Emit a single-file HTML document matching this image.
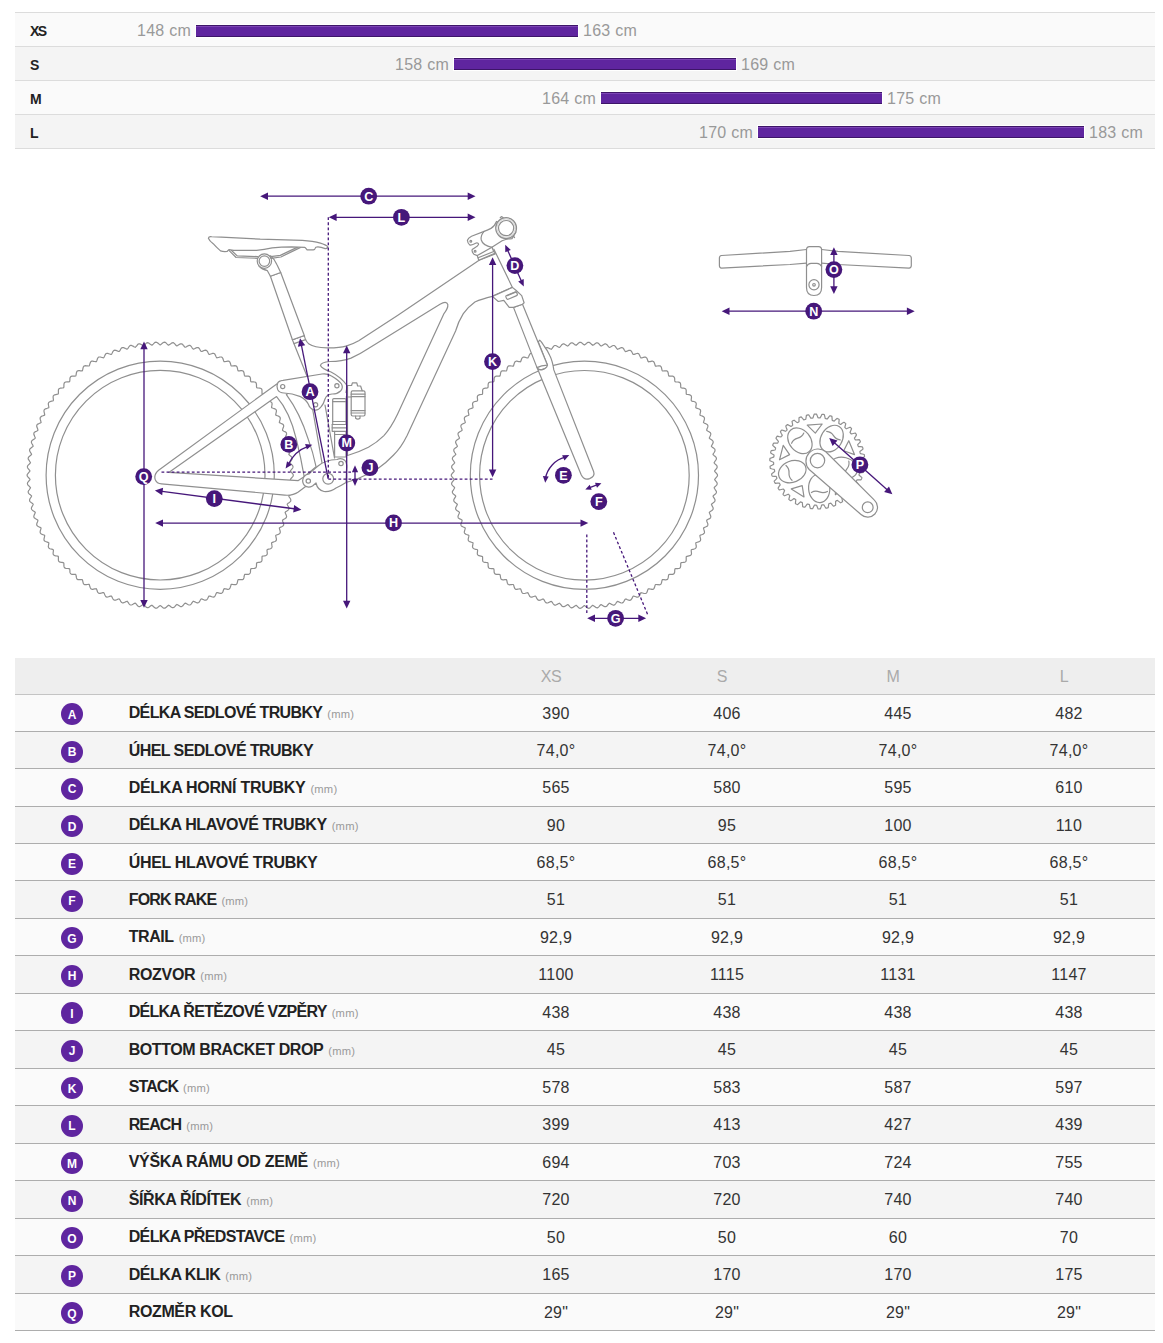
<!DOCTYPE html>
<html lang="cs"><head><meta charset="utf-8"><title>Geometrie</title>
<style>
html,body{margin:0;padding:0;background:#fff}
body{width:1163px;height:1343px;position:relative;overflow:hidden;font-family:"Liberation Sans",sans-serif;color:#333}
.srow{position:absolute;left:15px;width:1140px;height:33px;border-top:1px solid #dcdcdc;margin-top:-1px}
.srow.last{border-bottom:1px solid #dcdcdc}
.slab{position:absolute;left:15px;top:10px;font-size:14px;font-weight:bold;color:#222;line-height:16px}
.sl,.sr{position:absolute;top:8px;font-size:16px;line-height:20px;color:#999;white-space:nowrap;letter-spacing:.25px}
.sbar{position:absolute;top:11px;height:12px;background:linear-gradient(#3d1568 0,#3d1568 1px,#8048b8 1px,#7a41b3 2px,#5f259f 2px,#5f259f 11px,#3d1568 11px,#3d1568 12px);box-shadow:0 0 0 1px #fff}
.thead{position:absolute;left:15px;width:1140px;background:#eee}
.hc{position:absolute;top:8.5px;width:80px;text-align:center;font-size:16px;line-height:20px;color:#aaa;letter-spacing:-.3px}
.trow{position:absolute;left:15px;width:1140px;border-top:1px solid #adadad;margin-top:-1px}
.trow.first{border-top-color:#c4c4c4}
.dot{position:absolute;left:46px;top:8px;width:22px;height:22px;border-radius:50%;background:#5f259f;color:#fff;font-size:12px;font-weight:bold;line-height:24px;text-align:center}
.lab{position:absolute;left:113.7px;top:7px;white-space:nowrap;font-size:16px;line-height:22px;color:#222}
.lab b{font-weight:bold}
.mm{font-size:11.2px;color:#999;margin-left:5px;letter-spacing:.2px}
.vc{position:absolute;top:8px;width:100px;text-align:center;font-size:16px;line-height:22px;color:#333;letter-spacing:.25px}
.trow.h .dot{top:9px;line-height:22px}.trow.h .lab{top:8px}
.endline{position:absolute;left:15px;width:1140px;top:1330px;height:1px;background:#adadad}
.sendline{position:absolute;left:15px;width:1140px;top:148px;height:1px;background:#dcdcdc}
svg{position:absolute;left:0;top:0}
</style></head><body>
<div class="srow" style="top:13px;background:#fafafa"><span class="slab" style="letter-spacing:-1.6px">XS</span><span class="sl" style="right:964px">148 cm</span><span class="sbar" style="left:181px;width:382px;top:12px"></span><span class="sr" style="left:568px">163 cm</span></div>
<div class="srow" style="top:47px;background:#f4f4f4"><span class="slab">S</span><span class="sl" style="right:706px">158 cm</span><span class="sbar" style="left:439px;width:282px"></span><span class="sr" style="left:726px">169 cm</span></div>
<div class="srow" style="top:81px;background:#fafafa"><span class="slab">M</span><span class="sl" style="right:559px">164 cm</span><span class="sbar" style="left:586px;width:281px"></span><span class="sr" style="left:872px">175 cm</span></div>
<div class="srow" style="top:115px;background:#f4f4f4"><span class="slab">L</span><span class="sl" style="right:402px">170 cm</span><span class="sbar" style="left:743px;width:326px"></span><span class="sr" style="left:1074px">183 cm</span></div>
<div class="sendline"></div>
<svg width="1163" height="650" viewBox="0 0 1163 650">
<g fill="none" stroke="#8f8f8f" stroke-width="1.2" stroke-linejoin="round" stroke-linecap="round">
<path d="M293.3 475.2 L293.2 475.9 L292.7 476.6 L292.1 477.3 L291.5 478.0 L290.9 478.7 L290.4 479.4 L290.8 480.1 L291.4 480.8 L292.0 481.5 L292.6 482.3 L292.9 483.0 L293.0 483.7 L292.8 484.4 L292.4 485.1 L291.7 485.8 L291.0 486.4 L290.4 487.1 L289.9 487.7 L290.3 488.4 L290.8 489.2 L291.3 490.0 L291.8 490.7 L292.2 491.5 L292.2 492.2 L292.0 492.9 L291.5 493.6 L290.8 494.2 L290.0 494.8 L289.4 495.4 L288.8 496.0 L289.1 496.8 L289.6 497.5 L290.1 498.3 L290.6 499.1 L290.8 499.9 L290.8 500.6 L290.6 501.3 L290.0 501.9 L289.3 502.5 L288.5 503.1 L287.8 503.6 L287.2 504.2 L287.5 505.0 L287.9 505.8 L288.4 506.6 L288.8 507.4 L289.0 508.2 L288.9 509.0 L288.6 509.6 L288.0 510.2 L287.3 510.7 L286.5 511.2 L285.7 511.7 L285.1 512.3 L285.3 513.1 L285.7 513.9 L286.1 514.8 L286.4 515.6 L286.6 516.4 L286.5 517.1 L286.2 517.8 L285.5 518.3 L284.8 518.8 L283.9 519.2 L283.1 519.7 L282.5 520.2 L282.6 521.0 L282.9 521.9 L283.3 522.8 L283.6 523.6 L283.7 524.4 L283.6 525.1 L283.2 525.8 L282.5 526.3 L281.7 526.7 L280.8 527.1 L280.0 527.5 L279.3 527.9 L279.5 528.8 L279.7 529.6 L280.0 530.5 L280.2 531.4 L280.3 532.2 L280.1 532.9 L279.7 533.5 L279.0 534.0 L278.2 534.4 L277.3 534.7 L276.4 535.0 L275.7 535.5 L275.8 536.3 L276.0 537.2 L276.2 538.1 L276.4 539.0 L276.4 539.8 L276.2 540.5 L275.7 541.1 L275.0 541.5 L274.1 541.8 L273.2 542.1 L272.4 542.4 L271.6 542.7 L271.6 543.6 L271.8 544.5 L271.9 545.4 L272.1 546.3 L272.0 547.1 L271.7 547.8 L271.2 548.3 L270.5 548.7 L269.6 549.0 L268.7 549.2 L267.8 549.4 L267.1 549.7 L267.0 550.6 L267.1 551.5 L267.2 552.4 L267.3 553.3 L267.2 554.2 L266.9 554.8 L266.3 555.3 L265.6 555.6 L264.7 555.8 L263.7 556.0 L262.8 556.2 L262.1 556.4 L262.0 557.3 L262.0 558.2 L262.0 559.1 L262.0 560.0 L261.9 560.8 L261.5 561.5 L261.0 561.9 L260.2 562.2 L259.3 562.3 L258.3 562.4 L257.4 562.6 L256.7 562.8 L256.5 563.6 L256.5 564.5 L256.5 565.5 L256.4 566.4 L256.2 567.2 L255.8 567.8 L255.2 568.2 L254.4 568.4 L253.5 568.5 L252.6 568.5 L251.6 568.6 L250.8 568.8 L250.6 569.6 L250.5 570.5 L250.5 571.5 L250.4 572.4 L250.1 573.1 L249.7 573.7 L249.1 574.1 L248.3 574.3 L247.3 574.3 L246.4 574.3 L245.5 574.3 L244.7 574.4 L244.4 575.2 L244.2 576.1 L244.1 577.0 L243.9 577.9 L243.6 578.7 L243.2 579.3 L242.5 579.6 L241.7 579.7 L240.8 579.7 L239.9 579.6 L238.9 579.5 L238.1 579.6 L237.8 580.4 L237.6 581.3 L237.4 582.2 L237.2 583.1 L236.8 583.8 L236.3 584.4 L235.7 584.6 L234.9 584.7 L234.0 584.6 L233.0 584.5 L232.1 584.4 L231.3 584.4 L230.9 585.1 L230.7 586.0 L230.4 586.9 L230.1 587.8 L229.7 588.5 L229.2 589.0 L228.5 589.3 L227.7 589.3 L226.8 589.1 L225.9 588.9 L225.0 588.8 L224.1 588.7 L223.7 589.4 L223.4 590.3 L223.1 591.2 L222.8 592.1 L222.3 592.7 L221.8 593.2 L221.1 593.4 L220.2 593.4 L219.4 593.2 L218.4 592.9 L217.5 592.7 L216.7 592.6 L216.3 593.3 L215.9 594.1 L215.5 595.0 L215.1 595.8 L214.7 596.5 L214.1 596.9 L213.4 597.1 L212.6 597.0 L211.7 596.7 L210.8 596.4 L209.9 596.1 L209.1 596.0 L208.6 596.6 L208.2 597.4 L207.8 598.3 L207.3 599.1 L206.8 599.7 L206.2 600.1 L205.5 600.2 L204.6 600.1 L203.8 599.8 L202.9 599.4 L202.1 599.0 L201.3 598.9 L200.7 599.5 L200.2 600.3 L199.8 601.1 L199.3 601.9 L198.7 602.5 L198.1 602.8 L197.3 602.9 L196.6 602.7 L195.7 602.3 L194.9 601.9 L194.0 601.5 L193.3 601.2 L192.7 601.8 L192.1 602.6 L191.6 603.4 L191.1 604.1 L190.5 604.7 L189.8 605.0 L189.1 605.0 L188.3 604.7 L187.5 604.3 L186.7 603.8 L185.9 603.4 L185.1 603.1 L184.5 603.7 L183.9 604.4 L183.3 605.1 L182.8 605.8 L182.1 606.3 L181.4 606.6 L180.7 606.6 L180.0 606.3 L179.2 605.8 L178.4 605.3 L177.6 604.8 L176.9 604.4 L176.2 604.9 L175.6 605.6 L175.0 606.3 L174.3 607.0 L173.7 607.5 L173.0 607.7 L172.3 607.6 L171.5 607.3 L170.8 606.7 L170.0 606.1 L169.3 605.6 L168.5 605.2 L167.9 605.7 L167.2 606.3 L166.5 607.0 L165.9 607.6 L165.2 608.1 L164.5 608.2 L163.8 608.1 L163.0 607.7 L162.3 607.1 L161.6 606.5 L160.9 605.9 L160.2 605.5 L159.5 605.9 L158.8 606.5 L158.1 607.1 L157.4 607.7 L156.6 608.1 L155.9 608.2 L155.2 608.1 L154.5 607.6 L153.9 607.0 L153.2 606.3 L152.5 605.7 L151.9 605.2 L151.1 605.6 L150.4 606.1 L149.6 606.7 L148.9 607.3 L148.1 607.6 L147.4 607.7 L146.7 607.5 L146.1 607.0 L145.4 606.3 L144.8 605.6 L144.2 604.9 L143.5 604.4 L142.8 604.8 L142.0 605.3 L141.2 605.8 L140.4 606.3 L139.7 606.6 L139.0 606.6 L138.3 606.3 L137.6 605.8 L137.1 605.1 L136.5 604.4 L135.9 603.7 L135.3 603.1 L134.5 603.4 L133.7 603.8 L132.9 604.3 L132.1 604.7 L131.3 605.0 L130.6 605.0 L129.9 604.7 L129.3 604.1 L128.8 603.4 L128.3 602.6 L127.7 601.8 L127.1 601.2 L126.4 601.5 L125.5 601.9 L124.7 602.3 L123.8 602.7 L123.1 602.9 L122.3 602.8 L121.7 602.5 L121.1 601.9 L120.6 601.1 L120.2 600.3 L119.7 599.5 L119.1 598.9 L118.3 599.0 L117.5 599.4 L116.6 599.8 L115.8 600.1 L114.9 600.2 L114.2 600.1 L113.6 599.7 L113.1 599.1 L112.6 598.3 L112.2 597.4 L111.8 596.6 L111.3 596.0 L110.5 596.1 L109.6 596.4 L108.7 596.7 L107.8 597.0 L107.0 597.1 L106.3 596.9 L105.7 596.5 L105.3 595.8 L104.9 595.0 L104.5 594.1 L104.1 593.3 L103.7 592.6 L102.9 592.7 L102.0 592.9 L101.0 593.2 L100.2 593.4 L99.3 593.4 L98.6 593.2 L98.1 592.7 L97.6 592.1 L97.3 591.2 L97.0 590.3 L96.7 589.4 L96.3 588.7 L95.4 588.8 L94.5 588.9 L93.6 589.1 L92.7 589.3 L91.9 589.3 L91.2 589.0 L90.7 588.5 L90.3 587.8 L90.0 586.9 L89.7 586.0 L89.5 585.1 L89.1 584.4 L88.3 584.4 L87.4 584.5 L86.4 584.6 L85.5 584.7 L84.7 584.6 L84.1 584.4 L83.6 583.8 L83.2 583.1 L83.0 582.2 L82.8 581.3 L82.6 580.4 L82.3 579.6 L81.5 579.5 L80.5 579.6 L79.6 579.7 L78.7 579.7 L77.9 579.6 L77.2 579.3 L76.8 578.7 L76.5 577.9 L76.3 577.0 L76.2 576.1 L76.0 575.2 L75.7 574.4 L74.9 574.3 L74.0 574.3 L73.1 574.3 L72.1 574.3 L71.3 574.1 L70.7 573.7 L70.3 573.1 L70.0 572.4 L69.9 571.5 L69.9 570.5 L69.8 569.6 L69.6 568.8 L68.8 568.6 L67.8 568.5 L66.9 568.5 L66.0 568.4 L65.2 568.2 L64.6 567.8 L64.2 567.2 L64.0 566.4 L63.9 565.5 L63.9 564.5 L63.9 563.6 L63.7 562.8 L63.0 562.6 L62.1 562.4 L61.1 562.3 L60.2 562.2 L59.4 561.9 L58.9 561.5 L58.5 560.8 L58.4 560.0 L58.4 559.1 L58.4 558.2 L58.4 557.3 L58.3 556.4 L57.6 556.2 L56.7 556.0 L55.7 555.8 L54.8 555.6 L54.1 555.3 L53.5 554.8 L53.2 554.2 L53.1 553.3 L53.2 552.4 L53.3 551.5 L53.4 550.6 L53.3 549.7 L52.6 549.4 L51.7 549.2 L50.8 549.0 L49.9 548.7 L49.2 548.3 L48.7 547.8 L48.4 547.1 L48.3 546.3 L48.5 545.4 L48.6 544.5 L48.8 543.6 L48.8 542.7 L48.0 542.4 L47.2 542.1 L46.3 541.8 L45.4 541.5 L44.7 541.1 L44.2 540.5 L44.0 539.8 L44.0 539.0 L44.2 538.1 L44.4 537.2 L44.6 536.3 L44.7 535.5 L44.0 535.0 L43.1 534.7 L42.2 534.4 L41.4 534.0 L40.7 533.5 L40.3 532.9 L40.1 532.2 L40.2 531.4 L40.4 530.5 L40.7 529.6 L40.9 528.8 L41.1 527.9 L40.4 527.5 L39.6 527.1 L38.7 526.7 L37.9 526.3 L37.2 525.8 L36.8 525.1 L36.7 524.4 L36.8 523.6 L37.1 522.8 L37.5 521.9 L37.8 521.0 L37.9 520.2 L37.3 519.7 L36.5 519.2 L35.6 518.8 L34.9 518.3 L34.2 517.8 L33.9 517.1 L33.8 516.4 L34.0 515.6 L34.3 514.8 L34.7 513.9 L35.1 513.1 L35.3 512.3 L34.7 511.7 L33.9 511.2 L33.1 510.7 L32.4 510.2 L31.8 509.6 L31.5 509.0 L31.4 508.2 L31.6 507.4 L32.0 506.6 L32.5 505.8 L32.9 505.0 L33.2 504.2 L32.6 503.6 L31.9 503.1 L31.1 502.5 L30.4 501.9 L29.8 501.3 L29.6 500.6 L29.6 499.9 L29.8 499.1 L30.3 498.3 L30.8 497.5 L31.3 496.8 L31.6 496.0 L31.0 495.4 L30.4 494.8 L29.6 494.2 L28.9 493.6 L28.4 492.9 L28.2 492.2 L28.2 491.5 L28.6 490.7 L29.1 490.0 L29.6 489.2 L30.1 488.4 L30.5 487.7 L30.0 487.1 L29.4 486.4 L28.7 485.8 L28.0 485.1 L27.6 484.4 L27.4 483.7 L27.5 483.0 L27.8 482.3 L28.4 481.5 L29.0 480.8 L29.6 480.1 L30.0 479.4 L29.5 478.7 L28.9 478.0 L28.3 477.3 L27.7 476.6 L27.2 475.9 L27.1 475.2 L27.2 474.5 L27.7 473.8 L28.3 473.1 L28.9 472.4 L29.5 471.7 L30.0 471.0 L29.6 470.3 L29.0 469.6 L28.4 468.9 L27.8 468.1 L27.5 467.4 L27.4 466.7 L27.6 466.0 L28.0 465.3 L28.7 464.6 L29.4 464.0 L30.0 463.3 L30.5 462.7 L30.1 462.0 L29.6 461.2 L29.1 460.4 L28.6 459.7 L28.2 458.9 L28.2 458.2 L28.4 457.5 L28.9 456.8 L29.6 456.2 L30.4 455.6 L31.0 455.0 L31.6 454.4 L31.3 453.6 L30.8 452.9 L30.3 452.1 L29.8 451.3 L29.6 450.5 L29.6 449.8 L29.8 449.1 L30.4 448.5 L31.1 447.9 L31.9 447.3 L32.6 446.8 L33.2 446.2 L32.9 445.4 L32.5 444.6 L32.0 443.8 L31.6 443.0 L31.4 442.2 L31.5 441.4 L31.8 440.8 L32.4 440.2 L33.1 439.7 L33.9 439.2 L34.7 438.7 L35.3 438.1 L35.1 437.3 L34.7 436.5 L34.3 435.6 L34.0 434.8 L33.8 434.0 L33.9 433.3 L34.2 432.6 L34.9 432.1 L35.6 431.6 L36.5 431.2 L37.3 430.7 L37.9 430.2 L37.8 429.4 L37.5 428.5 L37.1 427.6 L36.8 426.8 L36.7 426.0 L36.8 425.3 L37.2 424.6 L37.9 424.1 L38.7 423.7 L39.6 423.3 L40.4 422.9 L41.1 422.5 L40.9 421.6 L40.7 420.8 L40.4 419.9 L40.2 419.0 L40.1 418.2 L40.3 417.5 L40.7 416.9 L41.4 416.4 L42.2 416.0 L43.1 415.7 L44.0 415.4 L44.7 414.9 L44.6 414.1 L44.4 413.2 L44.2 412.3 L44.0 411.4 L44.0 410.6 L44.2 409.9 L44.7 409.3 L45.4 408.9 L46.3 408.6 L47.2 408.3 L48.0 408.0 L48.8 407.7 L48.8 406.8 L48.6 405.9 L48.5 405.0 L48.3 404.1 L48.4 403.3 L48.7 402.6 L49.2 402.1 L49.9 401.7 L50.8 401.4 L51.7 401.2 L52.6 401.0 L53.3 400.7 L53.4 399.8 L53.3 398.9 L53.2 398.0 L53.1 397.1 L53.2 396.2 L53.5 395.6 L54.1 395.1 L54.8 394.8 L55.7 394.6 L56.7 394.4 L57.6 394.2 L58.3 394.0 L58.4 393.1 L58.4 392.2 L58.4 391.3 L58.4 390.4 L58.5 389.6 L58.9 388.9 L59.4 388.5 L60.2 388.2 L61.1 388.1 L62.1 388.0 L63.0 387.8 L63.7 387.6 L63.9 386.8 L63.9 385.9 L63.9 384.9 L64.0 384.0 L64.2 383.2 L64.6 382.6 L65.2 382.2 L66.0 382.0 L66.9 381.9 L67.8 381.9 L68.8 381.8 L69.6 381.6 L69.8 380.8 L69.9 379.9 L69.9 378.9 L70.0 378.0 L70.3 377.3 L70.7 376.7 L71.3 376.3 L72.1 376.1 L73.1 376.1 L74.0 376.1 L74.9 376.1 L75.7 376.0 L76.0 375.2 L76.2 374.3 L76.3 373.4 L76.5 372.5 L76.8 371.7 L77.2 371.1 L77.9 370.8 L78.7 370.7 L79.6 370.7 L80.5 370.8 L81.5 370.9 L82.3 370.8 L82.6 370.0 L82.8 369.1 L83.0 368.2 L83.2 367.3 L83.6 366.6 L84.1 366.0 L84.7 365.8 L85.5 365.7 L86.4 365.8 L87.4 365.9 L88.3 366.0 L89.1 366.0 L89.5 365.3 L89.7 364.4 L90.0 363.5 L90.3 362.6 L90.7 361.9 L91.2 361.4 L91.9 361.1 L92.7 361.1 L93.6 361.3 L94.5 361.5 L95.4 361.6 L96.3 361.7 L96.7 361.0 L97.0 360.1 L97.3 359.2 L97.6 358.3 L98.1 357.7 L98.6 357.2 L99.3 357.0 L100.2 357.0 L101.0 357.2 L102.0 357.5 L102.9 357.7 L103.7 357.8 L104.1 357.1 L104.5 356.3 L104.9 355.4 L105.3 354.6 L105.7 353.9 L106.3 353.5 L107.0 353.3 L107.8 353.4 L108.7 353.7 L109.6 354.0 L110.5 354.3 L111.3 354.4 L111.8 353.8 L112.2 353.0 L112.6 352.1 L113.1 351.3 L113.6 350.7 L114.2 350.3 L114.9 350.2 L115.8 350.3 L116.6 350.6 L117.5 351.0 L118.3 351.4 L119.1 351.5 L119.7 350.9 L120.2 350.1 L120.6 349.3 L121.1 348.5 L121.7 347.9 L122.3 347.6 L123.1 347.5 L123.8 347.7 L124.7 348.1 L125.5 348.5 L126.4 348.9 L127.1 349.2 L127.7 348.6 L128.3 347.8 L128.8 347.0 L129.3 346.3 L129.9 345.7 L130.6 345.4 L131.3 345.4 L132.1 345.7 L132.9 346.1 L133.7 346.6 L134.5 347.0 L135.3 347.3 L135.9 346.7 L136.5 346.0 L137.1 345.3 L137.6 344.6 L138.3 344.1 L139.0 343.8 L139.7 343.8 L140.4 344.1 L141.2 344.6 L142.0 345.1 L142.8 345.6 L143.5 346.0 L144.2 345.5 L144.8 344.8 L145.4 344.1 L146.1 343.4 L146.7 342.9 L147.4 342.7 L148.1 342.8 L148.9 343.1 L149.6 343.7 L150.4 344.3 L151.1 344.8 L151.9 345.2 L152.5 344.7 L153.2 344.1 L153.9 343.4 L154.5 342.8 L155.2 342.3 L155.9 342.2 L156.6 342.3 L157.4 342.7 L158.1 343.3 L158.8 343.9 L159.5 344.5 L160.2 344.9 L160.9 344.5 L161.6 343.9 L162.3 343.3 L163.0 342.7 L163.8 342.3 L164.5 342.2 L165.2 342.3 L165.9 342.8 L166.5 343.4 L167.2 344.1 L167.9 344.7 L168.5 345.2 L169.3 344.8 L170.0 344.3 L170.8 343.7 L171.5 343.1 L172.3 342.8 L173.0 342.7 L173.7 342.9 L174.3 343.4 L175.0 344.1 L175.6 344.8 L176.2 345.5 L176.9 346.0 L177.6 345.6 L178.4 345.1 L179.2 344.6 L180.0 344.1 L180.7 343.8 L181.4 343.8 L182.1 344.1 L182.8 344.6 L183.3 345.3 L183.9 346.0 L184.5 346.7 L185.1 347.3 L185.9 347.0 L186.7 346.6 L187.5 346.1 L188.3 345.7 L189.1 345.4 L189.8 345.4 L190.5 345.7 L191.1 346.3 L191.6 347.0 L192.1 347.8 L192.7 348.6 L193.3 349.2 L194.0 348.9 L194.9 348.5 L195.7 348.1 L196.6 347.7 L197.3 347.5 L198.1 347.6 L198.7 347.9 L199.3 348.5 L199.8 349.3 L200.2 350.1 L200.7 350.9 L201.3 351.5 L202.1 351.4 L202.9 351.0 L203.8 350.6 L204.6 350.3 L205.5 350.2 L206.2 350.3 L206.8 350.7 L207.3 351.3 L207.8 352.1 L208.2 353.0 L208.6 353.8 L209.1 354.4 L209.9 354.3 L210.8 354.0 L211.7 353.7 L212.6 353.4 L213.4 353.3 L214.1 353.5 L214.7 353.9 L215.1 354.6 L215.5 355.4 L215.9 356.3 L216.3 357.1 L216.7 357.8 L217.5 357.7 L218.4 357.5 L219.4 357.2 L220.2 357.0 L221.1 357.0 L221.8 357.2 L222.3 357.7 L222.8 358.3 L223.1 359.2 L223.4 360.1 L223.7 361.0 L224.1 361.7 L225.0 361.6 L225.9 361.5 L226.8 361.3 L227.7 361.1 L228.5 361.1 L229.2 361.4 L229.7 361.9 L230.1 362.6 L230.4 363.5 L230.7 364.4 L230.9 365.3 L231.3 366.0 L232.1 366.0 L233.0 365.9 L234.0 365.8 L234.9 365.7 L235.7 365.8 L236.3 366.0 L236.8 366.6 L237.2 367.3 L237.4 368.2 L237.6 369.1 L237.8 370.0 L238.1 370.8 L238.9 370.9 L239.9 370.8 L240.8 370.7 L241.7 370.7 L242.5 370.8 L243.2 371.1 L243.6 371.7 L243.9 372.5 L244.1 373.4 L244.2 374.3 L244.4 375.2 L244.7 376.0 L245.5 376.1 L246.4 376.1 L247.3 376.1 L248.3 376.1 L249.1 376.3 L249.7 376.7 L250.1 377.3 L250.4 378.0 L250.5 378.9 L250.5 379.9 L250.6 380.8 L250.8 381.6 L251.6 381.8 L252.6 381.9 L253.5 381.9 L254.4 382.0 L255.2 382.2 L255.8 382.6 L256.2 383.2 L256.4 384.0 L256.5 384.9 L256.5 385.9 L256.5 386.8 L256.7 387.6 L257.4 387.8 L258.3 388.0 L259.3 388.1 L260.2 388.2 L261.0 388.5 L261.5 388.9 L261.9 389.6 L262.0 390.4 L262.0 391.3 L262.0 392.2 L262.0 393.1 L262.1 394.0 L262.8 394.2 L263.7 394.4 L264.7 394.6 L265.6 394.8 L266.3 395.1 L266.9 395.6 L267.2 396.2 L267.3 397.1 L267.2 398.0 L267.1 398.9 L267.0 399.8 L267.1 400.7 L267.8 401.0 L268.7 401.2 L269.6 401.4 L270.5 401.7 L271.2 402.1 L271.7 402.6 L272.0 403.3 L272.1 404.1 L271.9 405.0 L271.8 405.9 L271.6 406.8 L271.6 407.7 L272.4 408.0 L273.2 408.3 L274.1 408.6 L275.0 408.9 L275.7 409.3 L276.2 409.9 L276.4 410.6 L276.4 411.4 L276.2 412.3 L276.0 413.2 L275.8 414.1 L275.7 414.9 L276.4 415.4 L277.3 415.7 L278.2 416.0 L279.0 416.4 L279.7 416.9 L280.1 417.5 L280.3 418.2 L280.2 419.0 L280.0 419.9 L279.7 420.8 L279.5 421.6 L279.3 422.5 L280.0 422.9 L280.8 423.3 L281.7 423.7 L282.5 424.1 L283.2 424.6 L283.6 425.3 L283.7 426.0 L283.6 426.8 L283.3 427.6 L282.9 428.5 L282.6 429.4 L282.5 430.2 L283.1 430.7 L283.9 431.2 L284.8 431.6 L285.5 432.1 L286.2 432.6 L286.5 433.3 L286.6 434.0 L286.4 434.8 L286.1 435.6 L285.7 436.5 L285.3 437.3 L285.1 438.1 L285.7 438.7 L286.5 439.2 L287.3 439.7 L288.0 440.2 L288.6 440.8 L288.9 441.4 L289.0 442.2 L288.8 443.0 L288.4 443.8 L287.9 444.6 L287.5 445.4 L287.2 446.2 L287.8 446.8 L288.5 447.3 L289.3 447.9 L290.0 448.5 L290.6 449.1 L290.8 449.8 L290.8 450.5 L290.6 451.3 L290.1 452.1 L289.6 452.9 L289.1 453.6 L288.8 454.4 L289.4 455.0 L290.0 455.6 L290.8 456.2 L291.5 456.8 L292.0 457.5 L292.2 458.2 L292.2 458.9 L291.8 459.7 L291.3 460.4 L290.8 461.2 L290.3 462.0 L289.9 462.7 L290.4 463.3 L291.0 464.0 L291.7 464.6 L292.4 465.3 L292.8 466.0 L293.0 466.7 L292.9 467.4 L292.6 468.1 L292.0 468.9 L291.4 469.6 L290.8 470.3 L290.4 471.0 L290.9 471.7 L291.5 472.4 L292.1 473.1 L292.7 473.8 L293.2 474.5 L293.3 475.2Z"/>
<circle cx="160.2" cy="475.2" r="114.1"/>
<circle cx="160.2" cy="475.2" r="104.8"/>
<path d="M717.5 475.3 L717.4 476.0 L716.9 476.7 L716.3 477.4 L715.7 478.1 L715.1 478.8 L714.6 479.5 L715.0 480.2 L715.6 480.9 L716.2 481.6 L716.8 482.4 L717.1 483.1 L717.2 483.8 L717.0 484.5 L716.6 485.2 L715.9 485.9 L715.2 486.5 L714.6 487.2 L714.1 487.8 L714.5 488.5 L715.0 489.3 L715.5 490.1 L716.0 490.8 L716.4 491.6 L716.4 492.3 L716.2 493.0 L715.7 493.7 L715.0 494.3 L714.2 494.9 L713.6 495.5 L713.0 496.1 L713.3 496.9 L713.8 497.6 L714.3 498.4 L714.8 499.2 L715.0 500.0 L715.0 500.7 L714.8 501.4 L714.2 502.0 L713.5 502.6 L712.7 503.2 L712.0 503.7 L711.4 504.3 L711.7 505.1 L712.1 505.9 L712.6 506.7 L713.0 507.5 L713.2 508.3 L713.1 509.1 L712.8 509.7 L712.2 510.3 L711.5 510.8 L710.7 511.3 L709.9 511.8 L709.3 512.4 L709.5 513.2 L709.9 514.0 L710.3 514.9 L710.6 515.7 L710.8 516.5 L710.7 517.2 L710.4 517.9 L709.7 518.4 L709.0 518.9 L708.1 519.3 L707.3 519.8 L706.7 520.3 L706.8 521.1 L707.1 522.0 L707.5 522.9 L707.8 523.7 L707.9 524.5 L707.8 525.2 L707.4 525.9 L706.7 526.4 L705.9 526.8 L705.0 527.2 L704.2 527.6 L703.5 528.0 L703.7 528.9 L703.9 529.7 L704.2 530.6 L704.4 531.5 L704.5 532.3 L704.3 533.0 L703.9 533.6 L703.2 534.1 L702.4 534.5 L701.5 534.8 L700.6 535.1 L699.9 535.6 L700.0 536.4 L700.2 537.3 L700.4 538.2 L700.6 539.1 L700.6 539.9 L700.4 540.6 L699.9 541.2 L699.2 541.6 L698.3 541.9 L697.4 542.2 L696.6 542.5 L695.8 542.8 L695.8 543.7 L696.0 544.6 L696.1 545.5 L696.3 546.4 L696.2 547.2 L695.9 547.9 L695.4 548.4 L694.7 548.8 L693.8 549.1 L692.9 549.3 L692.0 549.5 L691.3 549.8 L691.2 550.7 L691.3 551.6 L691.4 552.5 L691.5 553.4 L691.4 554.3 L691.1 554.9 L690.5 555.4 L689.8 555.7 L688.9 555.9 L687.9 556.1 L687.0 556.3 L686.3 556.5 L686.2 557.4 L686.2 558.3 L686.2 559.2 L686.2 560.1 L686.1 560.9 L685.7 561.6 L685.2 562.0 L684.4 562.3 L683.5 562.4 L682.5 562.5 L681.6 562.7 L680.9 562.9 L680.7 563.7 L680.7 564.6 L680.7 565.6 L680.6 566.5 L680.4 567.3 L680.0 567.9 L679.4 568.3 L678.6 568.5 L677.7 568.6 L676.8 568.6 L675.8 568.7 L675.0 568.9 L674.8 569.7 L674.7 570.6 L674.7 571.6 L674.6 572.5 L674.3 573.2 L673.9 573.8 L673.3 574.2 L672.5 574.4 L671.5 574.4 L670.6 574.4 L669.7 574.4 L668.9 574.5 L668.6 575.3 L668.4 576.2 L668.3 577.1 L668.1 578.0 L667.8 578.8 L667.4 579.4 L666.7 579.7 L665.9 579.8 L665.0 579.8 L664.1 579.7 L663.1 579.6 L662.3 579.7 L662.0 580.5 L661.8 581.4 L661.6 582.3 L661.4 583.2 L661.0 583.9 L660.5 584.5 L659.9 584.7 L659.1 584.8 L658.2 584.7 L657.2 584.6 L656.3 584.5 L655.5 584.5 L655.1 585.2 L654.9 586.1 L654.6 587.0 L654.3 587.9 L653.9 588.6 L653.4 589.1 L652.7 589.4 L651.9 589.4 L651.0 589.2 L650.1 589.0 L649.2 588.9 L648.3 588.8 L647.9 589.5 L647.6 590.4 L647.3 591.3 L647.0 592.2 L646.5 592.8 L646.0 593.3 L645.3 593.5 L644.4 593.5 L643.6 593.3 L642.6 593.0 L641.7 592.8 L640.9 592.7 L640.5 593.4 L640.1 594.2 L639.7 595.1 L639.3 595.9 L638.9 596.6 L638.3 597.0 L637.6 597.2 L636.8 597.1 L635.9 596.8 L635.0 596.5 L634.1 596.2 L633.3 596.1 L632.8 596.7 L632.4 597.5 L632.0 598.4 L631.5 599.2 L631.0 599.8 L630.4 600.2 L629.7 600.3 L628.8 600.2 L628.0 599.9 L627.1 599.5 L626.3 599.1 L625.5 599.0 L624.9 599.6 L624.4 600.4 L624.0 601.2 L623.5 602.0 L622.9 602.6 L622.3 602.9 L621.5 603.0 L620.8 602.8 L619.9 602.4 L619.1 602.0 L618.2 601.6 L617.5 601.3 L616.9 601.9 L616.3 602.7 L615.8 603.5 L615.3 604.2 L614.7 604.8 L614.0 605.1 L613.3 605.1 L612.5 604.8 L611.7 604.4 L610.9 603.9 L610.1 603.5 L609.3 603.2 L608.7 603.8 L608.1 604.5 L607.5 605.2 L607.0 605.9 L606.3 606.4 L605.6 606.7 L604.9 606.7 L604.2 606.4 L603.4 605.9 L602.6 605.4 L601.8 604.9 L601.1 604.5 L600.4 605.0 L599.8 605.7 L599.2 606.4 L598.5 607.1 L597.9 607.6 L597.2 607.8 L596.5 607.7 L595.7 607.4 L595.0 606.8 L594.2 606.2 L593.5 605.7 L592.7 605.3 L592.1 605.8 L591.4 606.4 L590.7 607.1 L590.1 607.7 L589.4 608.2 L588.7 608.3 L588.0 608.2 L587.2 607.8 L586.5 607.2 L585.8 606.6 L585.1 606.0 L584.4 605.6 L583.7 606.0 L583.0 606.6 L582.3 607.2 L581.6 607.8 L580.8 608.2 L580.1 608.3 L579.4 608.2 L578.7 607.7 L578.1 607.1 L577.4 606.4 L576.7 605.8 L576.1 605.3 L575.3 605.7 L574.6 606.2 L573.8 606.8 L573.1 607.4 L572.3 607.7 L571.6 607.8 L570.9 607.6 L570.3 607.1 L569.6 606.4 L569.0 605.7 L568.4 605.0 L567.7 604.5 L567.0 604.9 L566.2 605.4 L565.4 605.9 L564.6 606.4 L563.9 606.7 L563.2 606.7 L562.5 606.4 L561.8 605.9 L561.3 605.2 L560.7 604.5 L560.1 603.8 L559.5 603.2 L558.7 603.5 L557.9 603.9 L557.1 604.4 L556.3 604.8 L555.5 605.1 L554.8 605.1 L554.1 604.8 L553.5 604.2 L553.0 603.5 L552.5 602.7 L551.9 601.9 L551.3 601.3 L550.6 601.6 L549.7 602.0 L548.9 602.4 L548.0 602.8 L547.3 603.0 L546.5 602.9 L545.9 602.6 L545.3 602.0 L544.8 601.2 L544.4 600.4 L543.9 599.6 L543.3 599.0 L542.5 599.1 L541.7 599.5 L540.8 599.9 L540.0 600.2 L539.1 600.3 L538.4 600.2 L537.8 599.8 L537.3 599.2 L536.8 598.4 L536.4 597.5 L536.0 596.7 L535.5 596.1 L534.7 596.2 L533.8 596.5 L532.9 596.8 L532.0 597.1 L531.2 597.2 L530.5 597.0 L529.9 596.6 L529.5 595.9 L529.1 595.1 L528.7 594.2 L528.3 593.4 L527.9 592.7 L527.1 592.8 L526.2 593.0 L525.2 593.3 L524.4 593.5 L523.5 593.5 L522.8 593.3 L522.3 592.8 L521.8 592.2 L521.5 591.3 L521.2 590.4 L520.9 589.5 L520.5 588.8 L519.6 588.9 L518.7 589.0 L517.8 589.2 L516.9 589.4 L516.1 589.4 L515.4 589.1 L514.9 588.6 L514.5 587.9 L514.2 587.0 L513.9 586.1 L513.7 585.2 L513.3 584.5 L512.5 584.5 L511.6 584.6 L510.6 584.7 L509.7 584.8 L508.9 584.7 L508.3 584.5 L507.8 583.9 L507.4 583.2 L507.2 582.3 L507.0 581.4 L506.8 580.5 L506.5 579.7 L505.7 579.6 L504.7 579.7 L503.8 579.8 L502.9 579.8 L502.1 579.7 L501.4 579.4 L501.0 578.8 L500.7 578.0 L500.5 577.1 L500.4 576.2 L500.2 575.3 L499.9 574.5 L499.1 574.4 L498.2 574.4 L497.3 574.4 L496.3 574.4 L495.5 574.2 L494.9 573.8 L494.5 573.2 L494.2 572.5 L494.1 571.6 L494.1 570.6 L494.0 569.7 L493.8 568.9 L493.0 568.7 L492.0 568.6 L491.1 568.6 L490.2 568.5 L489.4 568.3 L488.8 567.9 L488.4 567.3 L488.2 566.5 L488.1 565.6 L488.1 564.6 L488.1 563.7 L487.9 562.9 L487.2 562.7 L486.3 562.5 L485.3 562.4 L484.4 562.3 L483.6 562.0 L483.1 561.6 L482.7 560.9 L482.6 560.1 L482.6 559.2 L482.6 558.3 L482.6 557.4 L482.5 556.5 L481.8 556.3 L480.9 556.1 L479.9 555.9 L479.0 555.7 L478.3 555.4 L477.7 554.9 L477.4 554.3 L477.3 553.4 L477.4 552.5 L477.5 551.6 L477.6 550.7 L477.5 549.8 L476.8 549.5 L475.9 549.3 L475.0 549.1 L474.1 548.8 L473.4 548.4 L472.9 547.9 L472.6 547.2 L472.5 546.4 L472.7 545.5 L472.8 544.6 L473.0 543.7 L473.0 542.8 L472.2 542.5 L471.4 542.2 L470.5 541.9 L469.6 541.6 L468.9 541.2 L468.4 540.6 L468.2 539.9 L468.2 539.1 L468.4 538.2 L468.6 537.3 L468.8 536.4 L468.9 535.6 L468.2 535.1 L467.3 534.8 L466.4 534.5 L465.6 534.1 L464.9 533.6 L464.5 533.0 L464.3 532.3 L464.4 531.5 L464.6 530.6 L464.9 529.7 L465.1 528.9 L465.3 528.0 L464.6 527.6 L463.8 527.2 L462.9 526.8 L462.1 526.4 L461.4 525.9 L461.0 525.2 L460.9 524.5 L461.0 523.7 L461.3 522.9 L461.7 522.0 L462.0 521.1 L462.1 520.3 L461.5 519.8 L460.7 519.3 L459.8 518.9 L459.1 518.4 L458.4 517.9 L458.1 517.2 L458.0 516.5 L458.2 515.7 L458.5 514.9 L458.9 514.0 L459.3 513.2 L459.5 512.4 L458.9 511.8 L458.1 511.3 L457.3 510.8 L456.6 510.3 L456.0 509.7 L455.7 509.1 L455.6 508.3 L455.8 507.5 L456.2 506.7 L456.7 505.9 L457.1 505.1 L457.4 504.3 L456.8 503.7 L456.1 503.2 L455.3 502.6 L454.6 502.0 L454.0 501.4 L453.8 500.7 L453.8 500.0 L454.0 499.2 L454.5 498.4 L455.0 497.6 L455.5 496.9 L455.8 496.1 L455.2 495.5 L454.6 494.9 L453.8 494.3 L453.1 493.7 L452.6 493.0 L452.4 492.3 L452.4 491.6 L452.8 490.8 L453.3 490.1 L453.8 489.3 L454.3 488.5 L454.7 487.8 L454.2 487.2 L453.6 486.5 L452.9 485.9 L452.2 485.2 L451.8 484.5 L451.6 483.8 L451.7 483.1 L452.0 482.4 L452.6 481.6 L453.2 480.9 L453.8 480.2 L454.2 479.5 L453.7 478.8 L453.1 478.1 L452.5 477.4 L451.9 476.7 L451.4 476.0 L451.3 475.3 L451.4 474.6 L451.9 473.9 L452.5 473.2 L453.1 472.5 L453.7 471.8 L454.2 471.1 L453.8 470.4 L453.2 469.7 L452.6 469.0 L452.0 468.2 L451.7 467.5 L451.6 466.8 L451.8 466.1 L452.2 465.4 L452.9 464.7 L453.6 464.1 L454.2 463.4 L454.7 462.8 L454.3 462.1 L453.8 461.3 L453.3 460.5 L452.8 459.8 L452.4 459.0 L452.4 458.3 L452.6 457.6 L453.1 456.9 L453.8 456.3 L454.6 455.7 L455.2 455.1 L455.8 454.5 L455.5 453.7 L455.0 453.0 L454.5 452.2 L454.0 451.4 L453.8 450.6 L453.8 449.9 L454.0 449.2 L454.6 448.6 L455.3 448.0 L456.1 447.4 L456.8 446.9 L457.4 446.3 L457.1 445.5 L456.7 444.7 L456.2 443.9 L455.8 443.1 L455.6 442.3 L455.7 441.5 L456.0 440.9 L456.6 440.3 L457.3 439.8 L458.1 439.3 L458.9 438.8 L459.5 438.2 L459.3 437.4 L458.9 436.6 L458.5 435.7 L458.2 434.9 L458.0 434.1 L458.1 433.4 L458.4 432.7 L459.1 432.2 L459.8 431.7 L460.7 431.3 L461.5 430.8 L462.1 430.3 L462.0 429.5 L461.7 428.6 L461.3 427.7 L461.0 426.9 L460.9 426.1 L461.0 425.4 L461.4 424.7 L462.1 424.2 L462.9 423.8 L463.8 423.4 L464.6 423.0 L465.3 422.6 L465.1 421.7 L464.9 420.9 L464.6 420.0 L464.4 419.1 L464.3 418.3 L464.5 417.6 L464.9 417.0 L465.6 416.5 L466.4 416.1 L467.3 415.8 L468.2 415.5 L468.9 415.0 L468.8 414.2 L468.6 413.3 L468.4 412.4 L468.2 411.5 L468.2 410.7 L468.4 410.0 L468.9 409.4 L469.6 409.0 L470.5 408.7 L471.4 408.4 L472.2 408.1 L473.0 407.8 L473.0 406.9 L472.8 406.0 L472.7 405.1 L472.5 404.2 L472.6 403.4 L472.9 402.7 L473.4 402.2 L474.1 401.8 L475.0 401.5 L475.9 401.3 L476.8 401.1 L477.5 400.8 L477.6 399.9 L477.5 399.0 L477.4 398.1 L477.3 397.2 L477.4 396.3 L477.7 395.7 L478.3 395.2 L479.0 394.9 L479.9 394.7 L480.9 394.5 L481.8 394.3 L482.5 394.1 L482.6 393.2 L482.6 392.3 L482.6 391.4 L482.6 390.5 L482.7 389.7 L483.1 389.0 L483.6 388.6 L484.4 388.3 L485.3 388.2 L486.3 388.1 L487.2 387.9 L487.9 387.7 L488.1 386.9 L488.1 386.0 L488.1 385.0 L488.2 384.1 L488.4 383.3 L488.8 382.7 L489.4 382.3 L490.2 382.1 L491.1 382.0 L492.0 382.0 L493.0 381.9 L493.8 381.7 L494.0 380.9 L494.1 380.0 L494.1 379.0 L494.2 378.1 L494.5 377.4 L494.9 376.8 L495.5 376.4 L496.3 376.2 L497.3 376.2 L498.2 376.2 L499.1 376.2 L499.9 376.1 L500.2 375.3 L500.4 374.4 L500.5 373.5 L500.7 372.6 L501.0 371.8 L501.4 371.2 L502.1 370.9 L502.9 370.8 L503.8 370.8 L504.7 370.9 L505.7 371.0 L506.5 370.9 L506.8 370.1 L507.0 369.2 L507.2 368.3 L507.4 367.4 L507.8 366.7 L508.3 366.1 L508.9 365.9 L509.7 365.8 L510.6 365.9 L511.6 366.0 L512.5 366.1 L513.3 366.1 L513.7 365.4 L513.9 364.5 L514.2 363.6 L514.5 362.7 L514.9 362.0 L515.4 361.5 L516.1 361.2 L516.9 361.2 L517.8 361.4 L518.7 361.6 L519.6 361.7 L520.5 361.8 L520.9 361.1 L521.2 360.2 L521.5 359.3 L521.8 358.4 L522.3 357.8 L522.8 357.3 L523.5 357.1 L524.4 357.1 L525.2 357.3 L526.2 357.6 L527.1 357.8 L527.9 357.9 L528.3 357.2 L528.7 356.4 L529.1 355.5 L529.5 354.7 L529.9 354.0 L530.5 353.6 L531.2 353.4 L532.0 353.5 L532.9 353.8 L533.8 354.1 L534.7 354.4 L535.5 354.5 L536.0 353.9 L536.4 353.1 L536.8 352.2 L537.3 351.4 L537.8 350.8 L538.4 350.4 L539.1 350.3 L540.0 350.4 L540.8 350.7 L541.7 351.1 L542.5 351.5 L543.3 351.6 L543.9 351.0 L544.4 350.2 L544.8 349.4 L545.3 348.6 L545.9 348.0 L546.5 347.7 L547.3 347.6 L548.0 347.8 L548.9 348.2 L549.7 348.6 L550.6 349.0 L551.3 349.3 L551.9 348.7 L552.5 347.9 L553.0 347.1 L553.5 346.4 L554.1 345.8 L554.8 345.5 L555.5 345.5 L556.3 345.8 L557.1 346.2 L557.9 346.7 L558.7 347.1 L559.5 347.4 L560.1 346.8 L560.7 346.1 L561.3 345.4 L561.8 344.7 L562.5 344.2 L563.2 343.9 L563.9 343.9 L564.6 344.2 L565.4 344.7 L566.2 345.2 L567.0 345.7 L567.7 346.1 L568.4 345.6 L569.0 344.9 L569.6 344.2 L570.3 343.5 L570.9 343.0 L571.6 342.8 L572.3 342.9 L573.1 343.2 L573.8 343.8 L574.6 344.4 L575.3 344.9 L576.1 345.3 L576.7 344.8 L577.4 344.2 L578.1 343.5 L578.7 342.9 L579.4 342.4 L580.1 342.3 L580.8 342.4 L581.6 342.8 L582.3 343.4 L583.0 344.0 L583.7 344.6 L584.4 345.0 L585.1 344.6 L585.8 344.0 L586.5 343.4 L587.2 342.8 L588.0 342.4 L588.7 342.3 L589.4 342.4 L590.1 342.9 L590.7 343.5 L591.4 344.2 L592.1 344.8 L592.7 345.3 L593.5 344.9 L594.2 344.4 L595.0 343.8 L595.7 343.2 L596.5 342.9 L597.2 342.8 L597.9 343.0 L598.5 343.5 L599.2 344.2 L599.8 344.9 L600.4 345.6 L601.1 346.1 L601.8 345.7 L602.6 345.2 L603.4 344.7 L604.2 344.2 L604.9 343.9 L605.6 343.9 L606.3 344.2 L607.0 344.7 L607.5 345.4 L608.1 346.1 L608.7 346.8 L609.3 347.4 L610.1 347.1 L610.9 346.7 L611.7 346.2 L612.5 345.8 L613.3 345.5 L614.0 345.5 L614.7 345.8 L615.3 346.4 L615.8 347.1 L616.3 347.9 L616.9 348.7 L617.5 349.3 L618.2 349.0 L619.1 348.6 L619.9 348.2 L620.8 347.8 L621.5 347.6 L622.3 347.7 L622.9 348.0 L623.5 348.6 L624.0 349.4 L624.4 350.2 L624.9 351.0 L625.5 351.6 L626.3 351.5 L627.1 351.1 L628.0 350.7 L628.8 350.4 L629.7 350.3 L630.4 350.4 L631.0 350.8 L631.5 351.4 L632.0 352.2 L632.4 353.1 L632.8 353.9 L633.3 354.5 L634.1 354.4 L635.0 354.1 L635.9 353.8 L636.8 353.5 L637.6 353.4 L638.3 353.6 L638.9 354.0 L639.3 354.7 L639.7 355.5 L640.1 356.4 L640.5 357.2 L640.9 357.9 L641.7 357.8 L642.6 357.6 L643.6 357.3 L644.4 357.1 L645.3 357.1 L646.0 357.3 L646.5 357.8 L647.0 358.4 L647.3 359.3 L647.6 360.2 L647.9 361.1 L648.3 361.8 L649.2 361.7 L650.1 361.6 L651.0 361.4 L651.9 361.2 L652.7 361.2 L653.4 361.5 L653.9 362.0 L654.3 362.7 L654.6 363.6 L654.9 364.5 L655.1 365.4 L655.5 366.1 L656.3 366.1 L657.2 366.0 L658.2 365.9 L659.1 365.8 L659.9 365.9 L660.5 366.1 L661.0 366.7 L661.4 367.4 L661.6 368.3 L661.8 369.2 L662.0 370.1 L662.3 370.9 L663.1 371.0 L664.1 370.9 L665.0 370.8 L665.9 370.8 L666.7 370.9 L667.4 371.2 L667.8 371.8 L668.1 372.6 L668.3 373.5 L668.4 374.4 L668.6 375.3 L668.9 376.1 L669.7 376.2 L670.6 376.2 L671.5 376.2 L672.5 376.2 L673.3 376.4 L673.9 376.8 L674.3 377.4 L674.6 378.1 L674.7 379.0 L674.7 380.0 L674.8 380.9 L675.0 381.7 L675.8 381.9 L676.8 382.0 L677.7 382.0 L678.6 382.1 L679.4 382.3 L680.0 382.7 L680.4 383.3 L680.6 384.1 L680.7 385.0 L680.7 386.0 L680.7 386.9 L680.9 387.7 L681.6 387.9 L682.5 388.1 L683.5 388.2 L684.4 388.3 L685.2 388.6 L685.7 389.0 L686.1 389.7 L686.2 390.5 L686.2 391.4 L686.2 392.3 L686.2 393.2 L686.3 394.1 L687.0 394.3 L687.9 394.5 L688.9 394.7 L689.8 394.9 L690.5 395.2 L691.1 395.7 L691.4 396.3 L691.5 397.2 L691.4 398.1 L691.3 399.0 L691.2 399.9 L691.3 400.8 L692.0 401.1 L692.9 401.3 L693.8 401.5 L694.7 401.8 L695.4 402.2 L695.9 402.7 L696.2 403.4 L696.3 404.2 L696.1 405.1 L696.0 406.0 L695.8 406.9 L695.8 407.8 L696.6 408.1 L697.4 408.4 L698.3 408.7 L699.2 409.0 L699.9 409.4 L700.4 410.0 L700.6 410.7 L700.6 411.5 L700.4 412.4 L700.2 413.3 L700.0 414.2 L699.9 415.0 L700.6 415.5 L701.5 415.8 L702.4 416.1 L703.2 416.5 L703.9 417.0 L704.3 417.6 L704.5 418.3 L704.4 419.1 L704.2 420.0 L703.9 420.9 L703.7 421.7 L703.5 422.6 L704.2 423.0 L705.0 423.4 L705.9 423.8 L706.7 424.2 L707.4 424.7 L707.8 425.4 L707.9 426.1 L707.8 426.9 L707.5 427.7 L707.1 428.6 L706.8 429.5 L706.7 430.3 L707.3 430.8 L708.1 431.3 L709.0 431.7 L709.7 432.2 L710.4 432.7 L710.7 433.4 L710.8 434.1 L710.6 434.9 L710.3 435.7 L709.9 436.6 L709.5 437.4 L709.3 438.2 L709.9 438.8 L710.7 439.3 L711.5 439.8 L712.2 440.3 L712.8 440.9 L713.1 441.5 L713.2 442.3 L713.0 443.1 L712.6 443.9 L712.1 444.7 L711.7 445.5 L711.4 446.3 L712.0 446.9 L712.7 447.4 L713.5 448.0 L714.2 448.6 L714.8 449.2 L715.0 449.9 L715.0 450.6 L714.8 451.4 L714.3 452.2 L713.8 453.0 L713.3 453.7 L713.0 454.5 L713.6 455.1 L714.2 455.7 L715.0 456.3 L715.7 456.9 L716.2 457.6 L716.4 458.3 L716.4 459.0 L716.0 459.8 L715.5 460.5 L715.0 461.3 L714.5 462.1 L714.1 462.8 L714.6 463.4 L715.2 464.1 L715.9 464.7 L716.6 465.4 L717.0 466.1 L717.2 466.8 L717.1 467.5 L716.8 468.2 L716.2 469.0 L715.6 469.7 L715.0 470.4 L714.6 471.1 L715.1 471.8 L715.7 472.5 L716.3 473.2 L716.9 473.9 L717.4 474.6 L717.5 475.3Z"/>
<circle cx="584.4" cy="475.3" r="114.1"/>
<circle cx="584.4" cy="475.3" r="104.8"/>
<path fill="#fff" d="M537 367.6 L581.2 474.8 Q584 480.6 589.6 478.6 Q595.4 476.2 593.6 471.5 L553.8 369.9 Q552.5 361 549.9 355.8 Q547 349.5 544.4 346.5 Q541.5 341.5 539.7 340.2 L538.2 341.8 L547.5 365.2 Q546.5 369 541.8 369.9 Q538.2 369.8 537 367.6Z"/>
<path fill="#fff" d="M513.5 307.4 L537 367.6 Q541 365.4 547.5 365.2 L522.5 304.2Z"/>
<path fill="#fff" d="M278.5 382.7 L158.6 470.2 Q153.6 474.5 155.2 479.5 Q156.8 483.6 161.5 483.9 L282 494.8 Q292 496.4 298.3 492 L309 484 L304.5 476.5 L298.3 480.6 L168.8 472.4 L273.6 398.6 L276.6 396.6 Q290 412 296.3 439.1 Q301 458 304.2 476.7 L316.1 466.8 Q313 452 308.2 439.1 Q300 413 286.4 394.6 L290 392 Z"/>
<path fill="#fff" d="M304.3 335.5 Q305.5 341.5 309 344 Q314 347.5 327 347.9 Q340 348 346 346.1 Q353 344 358.7 340.7 L397.5 315.5 L479.1 260.2 L478.5 258 L493.9 251.3 L493.9 249.2 L512.4 287.4 L492.4 296.4 Q481.8 298.9 474.9 302 Q468 307 463.3 313.6 Q458 322 455.6 331 L407.1 435.6 Q401 448 393.6 455 Q386 463 378 468.5 Q368 474.5 358.7 478.2 Q349 482 339.4 484 L333 486.5 Q326 488 321 484.5 L318 478 L322 462.8 L312 405.5 L309.6 382.8 L292.4 339.8 Z"/>
<path fill="#fff" d="M351 358.1 Q360 354 368.4 348.4 L440 304.2 Q446.5 300.5 447.8 304.5 Q448.3 308 444 313.6 L397.5 414.3 Q391 428 383.9 435.6 Q377 442.5 368.4 447.2 Q359 452 349 455 L347.5 455.5 L347.5 386 Q341 377 331 372 Q322 369 320.4 365.6 Q321 362 330 361.5 Q342 361.5 351 358.1Z"/>
<path fill="#fff" d="M492.4 296.4 L498.3 301.5 L503.8 300.3 L509.2 307.4 L513.5 307.4 L522.5 304.2 L524.1 302.7 L521.7 295.6 L515.9 290.2 L512.4 287.4Z"/>
<rect x="505.8" y="293.6" width="11.6" height="4" rx="1.2" transform="rotate(-23 511.6 295.6)"/>
<path d="M507.3 295.6 L515.6 292.1"/>
<path d="M479.1 260.2 L495.2 253.9"/>
<path d="M292.4 339.8 L304.3 335.5 M294 343.6 L305.6 339.6"/>
<path d="M325 405 L334.5 458"/>
<path fill="#fff" d="M332.7 399.5 Q332.7 398.6 333.8 398.6 H345 Q346 398.6 346 399.5 V424.5 H346.6 V431.3 H346 V457 H334.6 V431.3 H332.2 V424.5 H332.7Z"/>
<path d="M332.7 401.6 H346 M332.7 421.5 H346 M332.2 424.5 H346.6 M332.2 427.8 H346.6 M334.6 431.3 H346 M334.6 434.5 H346"/>
<path fill="#fff" d="M351.2 392.3 Q351.2 390.8 352.6 390.8 H363.6 Q365 390.8 365 392.3 V414.6 Q365 416 363.6 416 H352.6 Q351.2 416 351.2 414.6Z"/>
<path d="M351.2 394.2 H365 M351.2 396.6 H365 M351.2 410.6 H365 M351.2 413 H365 M355.6 416 V418.2 Q357.8 420 360 418.2 V416"/>
<path d="M346 397 H351.2 M346 392.5 L347.2 385.5 H351.6 L352.4 382.8 H356.8 L357.6 386 H360.6 L362.2 390.8"/>
<path fill="#fff" d="M277.7 383.2 Q278.5 381 283 380.4 L322 374 Q327.5 373.3 331.5 376 Q338.5 380 341.5 384 Q343.5 388 340.5 391 Q337 394.2 332 394 Q326.5 394.5 325 399 Q323.6 404 321.3 406.5 Q318 411 314 410 Q309.8 408.5 308.5 404.5 Q306 399.5 300.5 396.6 Q292 393.2 284 393 Q279.5 393 277.6 389.5 Q276.2 386 277.7 383.2Z"/>
<circle cx="282.7" cy="386.6" r="2.1"/>
<circle cx="336.9" cy="385.7" r="2.1"/>
<circle cx="315.6" cy="404.7" r="2.1"/>
<path fill="#fff" d="M303.5 477.5 Q301.5 482 304.5 485.5 Q308 488.5 312.5 486 L316 483 Q317.5 490 324 491.5 Q331 492 336 488 Q340.5 486 346 482.5 L346.5 470 Q347.5 464 345 460.5 Q341.5 457.5 337 459.5 Q325 460 318 466 Q312 471 309 474 Q305 474.5 303.5 477.5Z"/>
<circle cx="308.3" cy="481" r="2.2"/><circle cx="341" cy="463.5" r="2.2"/><circle cx="328.2" cy="478.8" r="5.4"/>
<path fill="#fff" d="M270.4 276.2 L292.4 339.8 L304.3 335.5 L280.7 272.5 Z"/>
<path fill="#fff" d="M258.6 265.5 Q262 269.5 267.4 270.7 L270.4 276.2 L280.7 272.5 L277 264.7 Q274.5 259 270.5 255.8 Z"/>
<circle fill="#fff" cx="264.4" cy="261.1" r="7.2"/><circle cx="264.4" cy="261.1" r="5.3"/>
<path d="M228.9 250.3 L236.1 257.5 L257.4 258.3 M231.3 250.3 L237.2 255.9 L257.8 256.6 M271 258.3 L280.9 257 L300.6 247.4 M270.6 256.6 L280.3 255.4 L297.6 247.1"/>
<path fill="#fff" d="M208.4 238.2 Q208.8 236.2 211.5 236.6 L260.2 239.2 L302.3 240.4 Q313 241 320.4 243.1 Q326 244.8 327.8 246.6 Q327.6 248.8 325.2 248.6 Q319 246.2 315.8 247.2 Q315 249.9 313.2 249.8 H307.1 Q305.3 247.6 304.7 247.3 L291.5 246.9 Q281 247 272.2 247.9 Q264 249.8 256.6 250.3 H233.7 L228.9 249.7 L227.1 251.5 Q223.5 252 220.5 250.9 Q216 247 213.2 243.7 Q209.5 241 208.4 238.2Z"/>
<path fill="#fff" d="M496.5 221.5 Q494.5 226.5 491 228.4 Q487 230.5 484.1 231.4 L471.5 236.2 Q468.2 237.8 467.4 240.3 Q467.6 243.3 469.8 244.9 Q471.5 245.6 476.2 243 Q478.6 242.6 478.6 244.4 Q478 246 474.5 248 L472.2 249.6 Q471.5 251.5 473.8 254.2 L477.3 255.6 L478.7 260.2 L495.5 253 L493.7 251.5 L491.9 247.3 L502.1 240.7 Q506 238.9 512 238.6 L516 232 Z"/>
<path d="M477.3 255.6 L491.9 247.3 M478.1 257.8 L493.7 251.5"/>
<circle cx="470.8" cy="241.3" r="0.9"/><circle cx="475.1" cy="251.2" r="0.9"/>
<path d="M484.1 231.4 Q480.3 235.5 481.3 240 Q482.8 245.6 491.9 247.3"/>
<path fill="#fff" d="M500.3 217.6 L501.8 216.6 L503.2 217.7 M514.5 237.6 L513.7 236.2"/>
<circle fill="#fff" cx="506.1" cy="228.1" r="10.4"/><circle cx="506.1" cy="228.1" r="9.2" stroke-width="0.6" stroke="#b5b5b5"/><circle cx="506.1" cy="228.1" r="7.6"/>
<path fill="#fff" d="M721.5 255.5 L790 251.4 L806.5 249.5 L821.6 249.5 L838 251.4 L909 255.5 Q911.3 255.8 911.3 258 V265.5 Q911.3 268 909 268.1 L838 264.5 L821.6 263.2 L806.5 263.2 L790 264.5 L721.5 268.1 Q719.4 268 719.4 265.5 V258 Q719.4 255.8 721.5 255.5Z"/>
<path fill="#fff" d="M806.5 250 Q806.5 246.7 809.5 246.7 H818.6 Q821.6 246.7 821.6 250 V287.5 Q821.6 295.5 814 295.5 Q806.5 295.5 806.5 287.5Z"/>
<path d="M806.5 266.5 Q808 263.3 811 263.3 H817 Q820 263.3 821.6 266.5"/>
<circle cx="814" cy="284.8" r="5.1"/><circle cx="814" cy="284.8" r="1.3"/>
<path d="M862.9 461.5 L864.7 462.3 L864.8 463.1 L864.7 463.9 L864.6 464.6 L862.7 465.3 L860.9 465.8 L860.7 466.5 L860.6 467.3 L860.6 468.0 L862.3 469.0 L863.9 470.1 L863.9 470.9 L863.7 471.6 L863.4 472.4 L861.5 472.7 L859.6 473.0 L859.3 473.6 L859.1 474.3 L859.0 475.0 L860.4 476.3 L861.9 477.6 L861.7 478.4 L861.4 479.1 L861.0 479.8 L859.1 479.8 L857.1 479.8 L856.7 480.4 L856.4 481.0 L856.2 481.7 L857.4 483.2 L858.6 484.7 L858.3 485.5 L857.9 486.2 L857.4 486.8 L855.5 486.4 L853.6 486.1 L853.1 486.6 L852.7 487.2 L852.3 487.8 L853.3 489.5 L854.2 491.2 L853.8 491.9 L853.3 492.5 L852.7 493.0 L850.8 492.4 L849.0 491.7 L848.5 492.1 L847.9 492.7 L847.5 493.2 L848.2 495.0 L848.8 496.9 L848.3 497.5 L847.7 498.0 L847.0 498.4 L845.3 497.5 L843.6 496.5 L843.0 496.9 L842.4 497.3 L841.9 497.8 L842.2 499.7 L842.6 501.6 L842.0 502.1 L841.3 502.5 L840.5 502.8 L839.0 501.6 L837.5 500.4 L836.8 500.6 L836.2 500.9 L835.6 501.3 L835.6 503.3 L835.6 505.2 L834.9 505.6 L834.2 505.9 L833.4 506.1 L832.1 504.6 L830.8 503.2 L830.1 503.3 L829.4 503.5 L828.8 503.8 L828.5 505.7 L828.2 507.6 L827.4 507.9 L826.7 508.1 L825.9 508.1 L824.8 506.5 L823.8 504.8 L823.1 504.8 L822.3 504.9 L821.6 505.1 L821.1 506.9 L820.4 508.8 L819.7 508.9 L818.9 509.0 L818.1 508.9 L817.3 507.1 L816.6 505.3 L815.9 505.2 L815.1 505.1 L814.4 505.2 L813.5 506.9 L812.6 508.7 L811.8 508.7 L811.0 508.6 L810.3 508.4 L809.8 506.5 L809.4 504.6 L808.7 504.3 L808.0 504.2 L807.2 504.1 L806.1 505.7 L804.9 507.2 L804.1 507.1 L803.4 506.9 L802.7 506.6 L802.5 504.6 L802.4 502.7 L801.8 502.3 L801.1 502.1 L800.4 501.9 L799.0 503.3 L797.6 504.6 L796.8 504.3 L796.1 504.0 L795.4 503.5 L795.6 501.6 L795.8 499.7 L795.2 499.2 L794.6 498.9 L793.9 498.6 L792.4 499.7 L790.7 500.7 L790.0 500.4 L789.4 499.9 L788.8 499.4 L789.3 497.5 L789.8 495.6 L789.3 495.1 L788.8 494.6 L788.2 494.2 L786.4 495.0 L784.6 495.8 L784.0 495.4 L783.4 494.8 L783.0 494.2 L783.8 492.4 L784.6 490.6 L784.2 490.0 L783.7 489.5 L783.2 489.0 L781.3 489.5 L779.4 490.0 L778.9 489.4 L778.4 488.8 L778.1 488.1 L779.1 486.4 L780.2 484.9 L779.9 484.2 L779.6 483.6 L779.1 483.0 L777.2 483.2 L775.3 483.4 L774.8 482.7 L774.5 482.0 L774.2 481.2 L775.5 479.8 L776.9 478.4 L776.7 477.7 L776.5 477.0 L776.1 476.4 L774.2 476.3 L772.2 476.1 L771.9 475.4 L771.7 474.7 L771.6 473.9 L773.1 472.7 L774.7 471.6 L774.6 470.8 L774.5 470.1 L774.2 469.4 L772.3 469.0 L770.4 468.5 L770.2 467.8 L770.1 467.0 L770.1 466.2 L771.9 465.3 L773.6 464.4 L773.7 463.7 L773.6 462.9 L773.5 462.2 L771.7 461.5 L769.9 460.7 L769.8 459.9 L769.9 459.1 L770.0 458.4 L771.9 457.7 L773.7 457.2 L773.9 456.5 L774.0 455.7 L774.0 455.0 L772.3 454.0 L770.7 452.9 L770.7 452.1 L770.9 451.4 L771.2 450.6 L773.1 450.3 L775.0 450.0 L775.3 449.4 L775.5 448.7 L775.6 448.0 L774.2 446.7 L772.7 445.4 L772.9 444.6 L773.2 443.9 L773.6 443.2 L775.5 443.2 L777.5 443.2 L777.9 442.6 L778.2 442.0 L778.4 441.3 L777.2 439.8 L776.0 438.3 L776.3 437.5 L776.7 436.8 L777.2 436.2 L779.1 436.6 L781.0 436.9 L781.5 436.4 L781.9 435.8 L782.3 435.2 L781.3 433.5 L780.4 431.8 L780.8 431.1 L781.3 430.5 L781.9 430.0 L783.8 430.6 L785.6 431.3 L786.1 430.9 L786.7 430.3 L787.1 429.8 L786.4 428.0 L785.8 426.1 L786.3 425.5 L786.9 425.0 L787.6 424.6 L789.3 425.5 L791.0 426.5 L791.6 426.1 L792.2 425.7 L792.7 425.2 L792.4 423.3 L792.0 421.4 L792.6 420.9 L793.3 420.5 L794.1 420.2 L795.6 421.4 L797.1 422.6 L797.8 422.4 L798.4 422.1 L799.0 421.7 L799.0 419.7 L799.0 417.8 L799.7 417.4 L800.4 417.1 L801.2 416.9 L802.5 418.4 L803.8 419.8 L804.5 419.7 L805.2 419.5 L805.8 419.2 L806.1 417.3 L806.4 415.4 L807.2 415.1 L807.9 414.9 L808.7 414.9 L809.8 416.5 L810.8 418.2 L811.5 418.2 L812.3 418.1 L813.0 417.9 L813.5 416.1 L814.2 414.2 L814.9 414.1 L815.7 414.0 L816.5 414.1 L817.3 415.9 L818.0 417.7 L818.7 417.8 L819.5 417.9 L820.2 417.8 L821.1 416.1 L822.0 414.3 L822.8 414.3 L823.6 414.4 L824.3 414.6 L824.8 416.5 L825.2 418.4 L825.9 418.7 L826.6 418.8 L827.4 418.9 L828.5 417.3 L829.7 415.8 L830.5 415.9 L831.2 416.1 L831.9 416.4 L832.1 418.4 L832.2 420.3 L832.8 420.7 L833.5 420.9 L834.2 421.1 L835.6 419.7 L837.0 418.4 L837.8 418.7 L838.5 419.0 L839.2 419.5 L839.0 421.4 L838.8 423.3 L839.4 423.8 L840.0 424.1 L840.7 424.4 L842.2 423.3 L843.9 422.3 L844.6 422.6 L845.2 423.1 L845.8 423.6 L845.3 425.5 L844.8 427.4 L845.3 427.9 L845.8 428.4 L846.4 428.8 L848.2 428.0 L850.0 427.2 L850.6 427.6 L851.2 428.2 L851.6 428.8 L850.8 430.6 L850.0 432.4 L850.4 433.0 L850.9 433.5 L851.4 434.0 L853.3 433.5 L855.2 433.0 L855.7 433.6 L856.2 434.2 L856.5 434.9 L855.5 436.6 L854.4 438.1 L854.7 438.8 L855.0 439.4 L855.5 440.0 L857.4 439.8 L859.3 439.6 L859.8 440.3 L860.1 441.0 L860.4 441.8 L859.1 443.2 L857.7 444.6 L857.9 445.3 L858.1 446.0 L858.5 446.6 L860.4 446.7 L862.4 446.9 L862.7 447.6 L862.9 448.3 L863.0 449.1 L861.5 450.3 L859.9 451.4 L860.0 452.2 L860.1 452.9 L860.4 453.6 L862.3 454.0 L864.2 454.5 L864.4 455.2 L864.5 456.0 L864.5 456.8 L862.7 457.7 L861.0 458.6 L860.9 459.3 L861.0 460.1 L861.1 460.8 L862.9 461.5Z"/>
<ellipse cx="831.6" cy="438.6" rx="14.2" ry="10.6" transform="rotate(-58.0 831.6 438.6)"/>
<path d="M826.7 431.4 Q831.1 431.8 833.5 435.6 T840.2 439.9"/>
<path d="M848.8 440.7 L854.5 454.6 L843.7 450.8Z"/>
<ellipse cx="843.5" cy="468.0" rx="14.2" ry="10.6" transform="rotate(14.0 843.5 468.0)"/>
<path d="M848.8 461.1 Q849.8 465.5 846.9 468.9 T845.0 476.6"/>
<path d="M846.9 485.1 L835.4 494.7 L835.6 483.3Z"/>
<ellipse cx="819.2" cy="488.4" rx="14.2" ry="10.6" transform="rotate(86.0 819.2 488.4)"/>
<path d="M827.4 491.4 Q823.6 493.6 819.4 491.9 T811.4 492.5"/>
<path d="M804.0 496.9 L791.3 488.9 L802.2 485.7Z"/>
<ellipse cx="792.3" cy="471.6" rx="14.2" ry="10.6" transform="rotate(158.0 792.3 471.6)"/>
<path d="M792.0 480.3 Q788.7 477.4 789.0 472.9 T786.0 465.5"/>
<path d="M779.5 459.8 L783.2 445.3 L789.6 454.6Z"/>
<ellipse cx="799.9" cy="440.8" rx="14.2" ry="10.6" transform="rotate(230.0 799.9 440.8)"/>
<path d="M791.6 443.3 Q793.3 439.2 797.7 438.1 T803.8 433.0"/>
<path d="M807.2 425.1 L822.2 424.0 L815.3 433.1Z"/>
<path fill="#fff" d="M809.2 469.5 A12.2 12.2 0 0 1 825.8 451.7 L874.4 500.1 A9.8 9.8 0 0 1 861.0 514.5Z"/>
<circle cx="817.5" cy="460.6" r="7.2"/><circle cx="867.7" cy="507.3" r="5.4"/>
</g>
<g>
<path d="M328.3 217.3 V479" stroke="#46177a" stroke-width="1.3" stroke-dasharray="2.8 2.25" fill="none"/>
<path d="M161.5 472.2 H351" stroke="#46177a" stroke-width="1.3" stroke-dasharray="2.8 2.25" fill="none"/>
<path d="M328.3 479.2 H492.5" stroke="#46177a" stroke-width="1.3" stroke-dasharray="2.8 2.25" fill="none"/>
<path d="M586.8 534.5 V615" stroke="#46177a" stroke-width="1.3" stroke-dasharray="2.8 2.25" fill="none"/>
<path d="M613.5 532.3 L648.3 616.1" stroke="#46177a" stroke-width="1.3" stroke-dasharray="2.8 2.25" fill="none"/>
<path d="M265.7 196.2L470.0 196.2" stroke="#46177a" stroke-width="1.3" fill="none"/><path d="M260.2 196.2L268.0 192.5L268.0 199.9Z" fill="#46177a" stroke="none"/><path d="M475.5 196.2L467.7 199.9L467.7 192.5Z" fill="#46177a" stroke="none"/>
<path d="M334.3 217.3L470.0 217.3" stroke="#46177a" stroke-width="1.3" fill="none"/><path d="M328.8 217.3L336.6 213.6L336.6 221.0Z" fill="#46177a" stroke="none"/><path d="M475.5 217.3L467.7 221.0L467.7 213.6Z" fill="#46177a" stroke="none"/>
<path d="M144.0 347.0L144.0 602.2" stroke="#46177a" stroke-width="1.3" fill="none"/><path d="M144.0 341.5L147.7 349.3L140.3 349.3Z" fill="#46177a" stroke="none"/><path d="M144.0 607.7L140.3 599.9L147.7 599.9Z" fill="#46177a" stroke="none"/>
<path d="M160.7 523.1L582.8 523.1" stroke="#46177a" stroke-width="1.3" fill="none"/><path d="M155.2 523.1L163.0 519.4L163.0 526.8Z" fill="#46177a" stroke="none"/><path d="M588.3 523.1L580.5 526.8L580.5 519.4Z" fill="#46177a" stroke="none"/>
<path d="M160.3 491.2L296.0 509.0" stroke="#46177a" stroke-width="1.3" fill="none"/><path d="M154.9 490.5L163.1 487.8L162.2 495.2Z" fill="#46177a" stroke="none"/><path d="M301.4 509.7L293.2 512.4L294.1 505.0Z" fill="#46177a" stroke="none"/>
<path d="M328.2 478.8L301.1 343.7" stroke="#46177a" stroke-width="1.3" fill="none"/><path d="M300.0 338.3L305.2 345.2L297.9 346.7Z" fill="#46177a" stroke="none"/>
<path d="M346.7 350.9L346.7 603.1" stroke="#46177a" stroke-width="1.3" fill="none"/><path d="M346.7 345.4L350.4 353.2L343.0 353.2Z" fill="#46177a" stroke="none"/><path d="M346.7 608.6L343.0 600.8L350.4 600.8Z" fill="#46177a" stroke="none"/>
<path d="M355.0 470.2L355.0 481.1" stroke="#46177a" stroke-width="1.3" fill="none"/><path d="M355.0 465.3L358.1 472.3L351.9 472.3Z" fill="#46177a" stroke="none"/><path d="M355.0 486.0L351.9 479.0L358.1 479.0Z" fill="#46177a" stroke="none"/>
<path d="M492.6 262.7L492.6 471.7" stroke="#46177a" stroke-width="1.3" fill="none"/><path d="M492.6 257.2L496.3 265.0L488.9 265.0Z" fill="#46177a" stroke="none"/><path d="M492.6 477.2L488.9 469.4L496.3 469.4Z" fill="#46177a" stroke="none"/>
<path d="M507.2 249.2L521.8 282.1" stroke="#46177a" stroke-width="1.3" fill="none"/><path d="M505.2 244.7L510.8 249.9L505.3 252.3Z" fill="#46177a" stroke="none"/><path d="M523.8 286.6L518.2 281.4L523.7 279.0Z" fill="#46177a" stroke="none"/>
<path d="M589.1 487.9L597.6 484.7" stroke="#46177a" stroke-width="1.3" fill="none"/><path d="M585.3 489.4L589.7 484.8L591.7 489.8Z" fill="#46177a" stroke="none"/><path d="M601.4 483.2L597.0 487.8L595.0 482.8Z" fill="#46177a" stroke="none"/>
<path d="M592.7 618.3L640.6 618.3" stroke="#46177a" stroke-width="1.3" fill="none"/><path d="M587.2 618.3L595.0 614.6L595.0 622.0Z" fill="#46177a" stroke="none"/><path d="M646.1 618.3L638.3 622.0L638.3 614.6Z" fill="#46177a" stroke="none"/>
<path d="M727.2 311.2L909.2 311.2" stroke="#46177a" stroke-width="1.3" fill="none"/><path d="M721.7 311.2L729.5 307.5L729.5 314.9Z" fill="#46177a" stroke="none"/><path d="M914.7 311.2L906.9 314.9L906.9 307.5Z" fill="#46177a" stroke="none"/>
<path d="M833.9 252.8L833.9 288.5" stroke="#46177a" stroke-width="1.3" fill="none"/><path d="M833.9 247.3L837.6 255.1L830.2 255.1Z" fill="#46177a" stroke="none"/><path d="M833.9 294.0L830.2 286.2L837.6 286.2Z" fill="#46177a" stroke="none"/>
<path d="M833.3 441.7L888.3 490.7" stroke="#46177a" stroke-width="1.3" fill="none"/><path d="M829.2 438.1L837.5 440.5L832.6 446.0Z" fill="#46177a" stroke="none"/><path d="M892.4 494.3L884.1 491.9L889.0 486.4Z" fill="#46177a" stroke="none"/>
<path d="M288.3 464.6 A34 34 0 0 1 308 446.3" stroke="#46177a" stroke-width="1.3" fill="none"/><path d="M285.6 468.4L287.0 461.3L291.8 464.7Z" fill="#46177a" stroke="none"/><path d="M312.3 444.8L306.9 449.6L305.1 444.1Z" fill="#46177a" stroke="none"/>
<path d="M545.4 478.5 A27 27 0 0 1 565.2 457.2" stroke="#46177a" stroke-width="1.3" fill="none"/><path d="M545.2 482.8L542.9 476.0L548.7 476.5Z" fill="#46177a" stroke="none"/><path d="M569.3 455.1L564.5 460.5L562.1 455.3Z" fill="#46177a" stroke="none"/>
<circle cx="368.7" cy="196.2" r="8.4" fill="#46177a" stroke="none"/><text x="368.7" y="200.6" text-anchor="middle" font-family="Liberation Sans, sans-serif" font-weight="bold" font-size="12.6" fill="#fff" stroke="none">C</text>
<circle cx="401.4" cy="217.3" r="8.4" fill="#46177a" stroke="none"/><text x="401.4" y="221.8" text-anchor="middle" font-family="Liberation Sans, sans-serif" font-weight="bold" font-size="12.6" fill="#fff" stroke="none">L</text>
<circle cx="143.7" cy="476.6" r="8.4" fill="#46177a" stroke="none"/><text x="143.7" y="481.1" text-anchor="middle" font-family="Liberation Sans, sans-serif" font-weight="bold" font-size="12.6" fill="#fff" stroke="none">Q</text>
<circle cx="393.5" cy="522.9" r="8.4" fill="#46177a" stroke="none"/><text x="393.5" y="527.4" text-anchor="middle" font-family="Liberation Sans, sans-serif" font-weight="bold" font-size="12.6" fill="#fff" stroke="none">H</text>
<circle cx="214.3" cy="498.6" r="8.4" fill="#46177a" stroke="none"/><text x="214.3" y="503.1" text-anchor="middle" font-family="Liberation Sans, sans-serif" font-weight="bold" font-size="12.6" fill="#fff" stroke="none">I</text>
<circle cx="310" cy="391.7" r="8.4" fill="#46177a" stroke="none"/><text x="310" y="396.1" text-anchor="middle" font-family="Liberation Sans, sans-serif" font-weight="bold" font-size="12.6" fill="#fff" stroke="none">A</text>
<circle cx="288.8" cy="444.4" r="8.4" fill="#46177a" stroke="none"/><text x="288.8" y="448.8" text-anchor="middle" font-family="Liberation Sans, sans-serif" font-weight="bold" font-size="12.6" fill="#fff" stroke="none">B</text>
<circle cx="346.8" cy="443" r="8.4" fill="#46177a" stroke="none"/><text x="346.8" y="447.4" text-anchor="middle" font-family="Liberation Sans, sans-serif" font-weight="bold" font-size="12.6" fill="#fff" stroke="none">M</text>
<circle cx="369.9" cy="467.7" r="8.4" fill="#46177a" stroke="none"/><text x="369.9" y="472.1" text-anchor="middle" font-family="Liberation Sans, sans-serif" font-weight="bold" font-size="12.6" fill="#fff" stroke="none">J</text>
<circle cx="492.5" cy="361.6" r="8.4" fill="#46177a" stroke="none"/><text x="492.5" y="366.1" text-anchor="middle" font-family="Liberation Sans, sans-serif" font-weight="bold" font-size="12.6" fill="#fff" stroke="none">K</text>
<circle cx="514.9" cy="265.6" r="8.4" fill="#46177a" stroke="none"/><text x="514.9" y="270.1" text-anchor="middle" font-family="Liberation Sans, sans-serif" font-weight="bold" font-size="12.6" fill="#fff" stroke="none">D</text>
<circle cx="563.4" cy="475.3" r="8.4" fill="#46177a" stroke="none"/><text x="563.4" y="479.8" text-anchor="middle" font-family="Liberation Sans, sans-serif" font-weight="bold" font-size="12.6" fill="#fff" stroke="none">E</text>
<circle cx="598.8" cy="501.6" r="8.4" fill="#46177a" stroke="none"/><text x="598.8" y="506.1" text-anchor="middle" font-family="Liberation Sans, sans-serif" font-weight="bold" font-size="12.6" fill="#fff" stroke="none">F</text>
<circle cx="615.6" cy="618.3" r="8.4" fill="#46177a" stroke="none"/><text x="615.6" y="622.8" text-anchor="middle" font-family="Liberation Sans, sans-serif" font-weight="bold" font-size="12.6" fill="#fff" stroke="none">G</text>
<circle cx="813.7" cy="311.2" r="8.4" fill="#46177a" stroke="none"/><text x="813.7" y="315.6" text-anchor="middle" font-family="Liberation Sans, sans-serif" font-weight="bold" font-size="12.6" fill="#fff" stroke="none">N</text>
<circle cx="833.9" cy="269.6" r="8.4" fill="#46177a" stroke="none"/><text x="833.9" y="274.1" text-anchor="middle" font-family="Liberation Sans, sans-serif" font-weight="bold" font-size="12.6" fill="#fff" stroke="none">O</text>
<circle cx="859.9" cy="464.8" r="8.4" fill="#46177a" stroke="none"/><text x="859.9" y="469.2" text-anchor="middle" font-family="Liberation Sans, sans-serif" font-weight="bold" font-size="12.6" fill="#fff" stroke="none">P</text>
</g></svg>
<div class="thead" style="top:658px;height:36px"><span class="hc" style="left:496px">XS</span><span class="hc" style="left:667px">S</span><span class="hc" style="left:838px">M</span><span class="hc" style="left:1009px">L</span></div>
<div class="trow first" style="top:695px;height:36px;background:#fafafa"><span class="dot">A</span><span class="lab"><b style="letter-spacing:-0.644px">DÉLKA SEDLOVÉ TRUBKY</b><span class="mm">(mm)</span></span><span class="vc" style="left:491px">390</span><span class="vc" style="left:662px">406</span><span class="vc" style="left:833px">445</span><span class="vc" style="left:1004px">482</span></div>
<div class="trow h" style="top:732px;height:36px;background:#f4f4f4"><span class="dot">B</span><span class="lab"><b style="letter-spacing:-0.571px">ÚHEL SEDLOVÉ TRUBKY</b></span><span class="vc" style="left:491px">74,0°</span><span class="vc" style="left:662px">74,0°</span><span class="vc" style="left:833px">74,0°</span><span class="vc" style="left:1004px">74,0°</span></div>
<div class="trow h" style="top:769px;height:37px;background:#fafafa"><span class="dot">C</span><span class="lab"><b style="letter-spacing:-0.272px">DÉLKA HORNÍ TRUBKY</b><span class="mm">(mm)</span></span><span class="vc" style="left:491px">565</span><span class="vc" style="left:662px">580</span><span class="vc" style="left:833px">595</span><span class="vc" style="left:1004px">610</span></div>
<div class="trow" style="top:807px;height:36px;background:#f4f4f4"><span class="dot">D</span><span class="lab"><b style="letter-spacing:-0.412px">DÉLKA HLAVOVÉ TRUBKY</b><span class="mm">(mm)</span></span><span class="vc" style="left:491px">90</span><span class="vc" style="left:662px">95</span><span class="vc" style="left:833px">100</span><span class="vc" style="left:1004px">110</span></div>
<div class="trow h" style="top:844px;height:36px;background:#fafafa"><span class="dot">E</span><span class="lab"><b style="letter-spacing:-0.327px">ÚHEL HLAVOVÉ TRUBKY</b></span><span class="vc" style="left:491px">68,5°</span><span class="vc" style="left:662px">68,5°</span><span class="vc" style="left:833px">68,5°</span><span class="vc" style="left:1004px">68,5°</span></div>
<div class="trow h" style="top:881px;height:37px;background:#f4f4f4"><span class="dot">F</span><span class="lab"><b style="letter-spacing:-0.826px">FORK RAKE</b><span class="mm">(mm)</span></span><span class="vc" style="left:491px">51</span><span class="vc" style="left:662px">51</span><span class="vc" style="left:833px">51</span><span class="vc" style="left:1004px">51</span></div>
<div class="trow" style="top:919px;height:36px;background:#fafafa"><span class="dot">G</span><span class="lab"><b style="letter-spacing:-0.427px">TRAIL</b><span class="mm">(mm)</span></span><span class="vc" style="left:491px">92,9</span><span class="vc" style="left:662px">92,9</span><span class="vc" style="left:833px">92,9</span><span class="vc" style="left:1004px">92,9</span></div>
<div class="trow h" style="top:956px;height:37px;background:#f4f4f4"><span class="dot">H</span><span class="lab"><b style="letter-spacing:-0.311px">ROZVOR</b><span class="mm">(mm)</span></span><span class="vc" style="left:491px">1100</span><span class="vc" style="left:662px">1115</span><span class="vc" style="left:833px">1131</span><span class="vc" style="left:1004px">1147</span></div>
<div class="trow" style="top:994px;height:36px;background:#fafafa"><span class="dot">I</span><span class="lab"><b style="letter-spacing:-0.718px">DÉLKA ŘETĚZOVÉ VZPĚRY</b><span class="mm">(mm)</span></span><span class="vc" style="left:491px">438</span><span class="vc" style="left:662px">438</span><span class="vc" style="left:833px">438</span><span class="vc" style="left:1004px">438</span></div>
<div class="trow h" style="top:1031px;height:37px;background:#f4f4f4"><span class="dot">J</span><span class="lab"><b style="letter-spacing:-0.41px">BOTTOM BRACKET DROP</b><span class="mm">(mm)</span></span><span class="vc" style="left:491px">45</span><span class="vc" style="left:662px">45</span><span class="vc" style="left:833px">45</span><span class="vc" style="left:1004px">45</span></div>
<div class="trow" style="top:1069px;height:36px;background:#fafafa"><span class="dot">K</span><span class="lab"><b style="letter-spacing:-0.905px">STACK</b><span class="mm">(mm)</span></span><span class="vc" style="left:491px">578</span><span class="vc" style="left:662px">583</span><span class="vc" style="left:833px">587</span><span class="vc" style="left:1004px">597</span></div>
<div class="trow h" style="top:1106px;height:37px;background:#f4f4f4"><span class="dot">L</span><span class="lab"><b style="letter-spacing:-0.873px">REACH</b><span class="mm">(mm)</span></span><span class="vc" style="left:491px">399</span><span class="vc" style="left:662px">413</span><span class="vc" style="left:833px">427</span><span class="vc" style="left:1004px">439</span></div>
<div class="trow" style="top:1144px;height:36px;background:#fafafa"><span class="dot">M</span><span class="lab"><b style="letter-spacing:-0.277px">VÝŠKA RÁMU OD ZEMĚ</b><span class="mm">(mm)</span></span><span class="vc" style="left:491px">694</span><span class="vc" style="left:662px">703</span><span class="vc" style="left:833px">724</span><span class="vc" style="left:1004px">755</span></div>
<div class="trow h" style="top:1181px;height:37px;background:#f4f4f4"><span class="dot">N</span><span class="lab"><b style="letter-spacing:-0.387px">ŠÍŘKA ŘÍDÍTEK</b><span class="mm">(mm)</span></span><span class="vc" style="left:491px">720</span><span class="vc" style="left:662px">720</span><span class="vc" style="left:833px">740</span><span class="vc" style="left:1004px">740</span></div>
<div class="trow" style="top:1219px;height:36px;background:#fafafa"><span class="dot">O</span><span class="lab"><b style="letter-spacing:-0.636px">DÉLKA PŘEDSTAVCE</b><span class="mm">(mm)</span></span><span class="vc" style="left:491px">50</span><span class="vc" style="left:662px">50</span><span class="vc" style="left:833px">60</span><span class="vc" style="left:1004px">70</span></div>
<div class="trow h" style="top:1256px;height:37px;background:#f4f4f4"><span class="dot">P</span><span class="lab"><b style="letter-spacing:-0.466px">DÉLKA KLIK</b><span class="mm">(mm)</span></span><span class="vc" style="left:491px">165</span><span class="vc" style="left:662px">170</span><span class="vc" style="left:833px">170</span><span class="vc" style="left:1004px">175</span></div>
<div class="trow" style="top:1294px;height:36px;background:#fafafa"><span class="dot">Q</span><span class="lab"><b style="letter-spacing:-0.361px">ROZMĚR KOL</b></span><span class="vc" style="left:491px">29"</span><span class="vc" style="left:662px">29"</span><span class="vc" style="left:833px">29"</span><span class="vc" style="left:1004px">29"</span></div>
<div class="endline"></div>
</body></html>
